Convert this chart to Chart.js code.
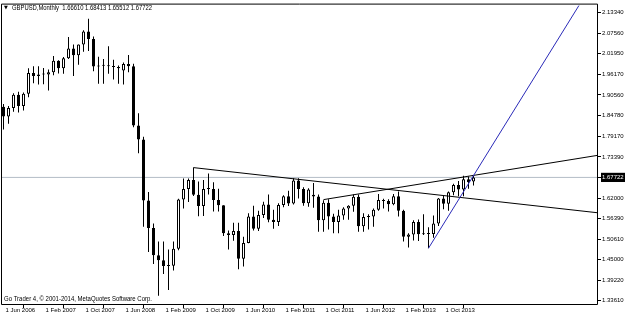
<!DOCTYPE html>
<html><head><meta charset="utf-8">
<script src="https://cdn.jsdelivr.net/npm/chart.js@4.4.0/dist/chart.umd.min.js"></script>
<style>html,body{margin:0;padding:0;background:#fff;overflow:hidden}#wrap{width:625px;height:315px;position:relative}</style>
</head><body><div id="wrap"><canvas id="c" width="625" height="315"></canvas></div>
<script>
// Monthly GBPUSD candles, Jun 2006 .. Apr 2014
const months = ['Jun 2006','Jul 2006','Aug 2006','Sep 2006','Oct 2006','Nov 2006','Dec 2006',
'Jan 2007','Feb 2007','Mar 2007','Apr 2007','May 2007','Jun 2007','Jul 2007','Aug 2007','Sep 2007','Oct 2007','Nov 2007','Dec 2007',
'Jan 2008','Feb 2008','Mar 2008','Apr 2008','May 2008','Jun 2008','Jul 2008','Aug 2008','Sep 2008','Oct 2008','Nov 2008','Dec 2008',
'Jan 2009','Feb 2009','Mar 2009','Apr 2009','May 2009','Jun 2009','Jul 2009','Aug 2009','Sep 2009','Oct 2009','Nov 2009','Dec 2009',
'Jan 2010','Feb 2010','Mar 2010','Apr 2010','May 2010','Jun 2010','Jul 2010','Aug 2010','Sep 2010','Oct 2010','Nov 2010','Dec 2010',
'Jan 2011','Feb 2011','Mar 2011','Apr 2011','May 2011','Jun 2011','Jul 2011','Aug 2011','Sep 2011','Oct 2011','Nov 2011','Dec 2011',
'Jan 2012','Feb 2012','Mar 2012','Apr 2012','May 2012','Jun 2012','Jul 2012','Aug 2012','Sep 2012','Oct 2012','Nov 2012','Dec 2012',
'Jan 2013','Feb 2013','Mar 2013','Apr 2013','May 2013','Jun 2013','Jul 2013','Aug 2013','Sep 2013','Oct 2013','Nov 2013','Dec 2013',
'Jan 2014','Feb 2014','Mar 2014','Apr 2014'];
const opens = [1.873,1.846,1.869,1.906,1.875,1.909,1.966,
1.958,1.962,1.962,1.968,2.000,1.979,2.007,2.034,2.015,2.045,2.081,2.060,
1.984,1.987,1.986,1.985,1.983,1.973,1.991,1.985,1.821,1.782,1.613,1.537,
1.462,1.448,1.432,1.433,1.480,1.616,1.645,1.670,1.629,1.598,1.645,1.645,
1.615,1.600,1.523,1.518,1.529,1.452,1.496,1.569,1.535,1.573,1.602,1.560,
1.554,1.601,1.625,1.605,1.669,1.645,1.606,1.629,1.6245,1.559,1.607,1.569,
1.554,1.572,1.591,1.599,1.624,1.542,1.568,1.569,1.588,1.615,1.612,1.603,
1.625,1.585,1.513,1.519,1.554,1.520,1.521,1.521,1.550,1.619,1.604,1.636,
1.656,1.644,1.672,1.66610];
const highs = [1.880,1.875,1.910,1.914,1.912,1.979,1.985,
1.985,1.980,1.976,2.013,2.001,2.010,2.066,2.045,2.045,2.084,2.116,2.067,
2.011,2.005,2.040,2.003,1.987,1.995,2.016,1.992,1.855,1.790,1.637,1.550,
1.500,1.500,1.478,1.500,1.618,1.674,1.674,1.7043,1.666,1.670,1.688,1.664,
1.646,1.600,1.530,1.552,1.552,1.513,1.578,1.599,1.585,1.610,1.630,1.588,
1.606,1.628,1.640,1.675,1.675,1.650,1.647,1.662,1.630,1.614,1.617,1.577,
1.588,1.595,1.600,1.630,1.630,1.578,1.575,1.591,1.631,1.618,1.617,1.631,
1.638,1.588,1.523,1.559,1.561,1.575,1.539,1.572,1.620,1.626,1.638,1.660,
1.667,1.682,1.680,1.68413];
const lows = [1.810,1.826,1.859,1.857,1.862,1.899,1.938,
1.934,1.935,1.918,1.960,1.965,1.964,2.005,1.958,1.989,2.025,2.027,1.971,
1.936,1.936,1.964,1.948,1.936,1.934,1.968,1.816,1.744,1.541,1.471,1.438,
1.350,1.410,1.366,1.420,1.476,1.591,1.609,1.626,1.570,1.5705,1.630,1.583,
1.583,1.515,1.478,1.502,1.423,1.431,1.495,1.530,1.529,1.565,1.553,1.535,
1.543,1.595,1.598,1.602,1.619,1.599,1.596,1.593,1.527,1.527,1.533,1.523,
1.523,1.560,1.560,1.582,1.527,1.527,1.533,1.541,1.585,1.591,1.583,1.600,
1.569,1.500,1.483,1.503,1.501,1.518,1.4814,1.510,1.543,1.589,1.585,1.628,
1.625,1.625,1.646,1.65512];
const closes = [1.846,1.869,1.906,1.875,1.909,1.966,1.958,
1.962,1.962,1.968,2.000,1.979,2.007,2.034,2.015,2.045,2.081,2.060,1.984,
1.987,1.986,1.985,1.983,1.979,1.991,1.985,1.821,1.782,1.613,1.537,1.462,
1.448,1.432,1.433,1.480,1.616,1.645,1.670,1.629,1.598,1.645,1.645,1.615,
1.600,1.523,1.518,1.529,1.452,1.496,1.569,1.535,1.573,1.602,1.560,1.554,
1.601,1.625,1.605,1.669,1.645,1.606,1.644,1.6245,1.559,1.607,1.569,1.554,
1.572,1.591,1.599,1.624,1.542,1.568,1.569,1.588,1.615,1.612,1.603,1.625,
1.585,1.513,1.519,1.554,1.520,1.521,1.521,1.550,1.619,1.604,1.636,1.656,
1.644,1.672,1.664,1.67722];

const xTickIndex = [0,8,16,24,32,40,48,56,64,72,80,88];
const xTickLabels = ['1 Jun 2006','1 Feb 2007','1 Oct 2007','1 Jun 2008','1 Feb 2009','1 Oct 2009',
  '1 Jun 2010','1 Feb 2011','1 Oct 2011','1 Jun 2012','1 Feb 2013','1 Oct 2013'];
const yTickValues = [2.13340,2.07560,2.01950,1.96170,1.90560,1.84780,1.79170,1.73390,1.67722,1.62000,1.56390,1.50610,1.45000,1.39220,1.33610];
const yTickLabels = ['2.13340','2.07560','2.01950','1.96170','1.90560','1.84780','1.79170','1.73390','1.67722','1.62000','1.56390','1.50610','1.45000','1.39220','1.33610'];
const currentPrice = 1.67722;

// trend lines (month index, price)
const trendDown = [[38,1.7043],[118.9,1.5793]];
const trendUp = [[64,1.6158],[118.9,1.7384]];
const trendBlue = [[85,1.4814],[115.08,2.1526]];

const titleText = 'GBPUSD,Monthly  1.66610 1.68413 1.65512 1.67722';
const footerText = 'Go Trader 4, \u00A9 2001-2014, MetaQuotes Software Corp.';

const X_MIN = -0.3, X_MAX = 118.9;
const Y_MIN = 1.3270, Y_MAX = 2.1553;
const FONT = 'Liberation Sans, Arial, sans-serif';

const toPts = arr => arr.map(p => ({x: p[0], y: p[1]}));

const textPlugin = {
  id: 'mtText',
  afterDraw(chart) {
    const ctx = chart.ctx, a = chart.chartArea;
    ctx.save();
    // frame
    ctx.strokeStyle = '#000';
    ctx.lineWidth = 1;
    ctx.beginPath();
    ctx.moveTo(a.left - 0.5, a.top - 0.5);
    ctx.lineTo(a.right - 0.5, a.top - 0.5);
    ctx.lineTo(a.right - 0.5, a.bottom + 0.5);
    ctx.lineTo(a.left - 0.5, a.bottom + 0.5);
    ctx.closePath();
    ctx.stroke();
    ctx.fillStyle = '#000';
    ctx.textBaseline = 'alphabetic';
    ctx.textAlign = 'left';
    ctx.font = '5px DejaVu Sans';
    ctx.fillText('\u25BC', 4, 9);
    ctx.font = '7px ' + FONT;
    ctx.fillText(titleText, 12, 9.5, 140);
    ctx.fillText(footerText, 4, 300.5, 148);
    ctx.restore();
  }
};

new Chart(document.getElementById('c'), {
  type: 'bar',
  data: {
    datasets: [
      {
        type: 'line', label: 'price', order: 5,
        data: [{x: X_MIN, y: currentPrice}, {x: X_MAX, y: currentPrice}],
        borderColor: '#b4bcc6', borderWidth: 1, pointRadius: 0, clip: 0
      },
      {
        label: 'wicks', order: 4, grouped: false,
        data: months.map((m, i) => ({x: i, y: [lows[i], highs[i]]})),
        backgroundColor: '#000', borderWidth: 0, barThickness: 1, inflateAmount: 0
      },
      {
        label: 'bodies', order: 3, grouped: false,
        data: months.map((m, i) => ({x: i, y: [opens[i], closes[i]]})),
        backgroundColor: months.map((m, i) => closes[i] >= opens[i] ? '#fff' : '#000'),
        borderColor: '#000', borderWidth: 1, borderSkipped: false,
        barThickness: 3, minBarLength: 1, inflateAmount: 0
      },
      {
        type: 'line', label: 'down', order: 1, data: toPts(trendDown),
        borderColor: '#000', borderWidth: 1, pointRadius: 0, clip: 0
      },
      {
        type: 'line', label: 'up', order: 1, data: toPts(trendUp),
        borderColor: '#000', borderWidth: 1, pointRadius: 0, clip: 0
      },
      {
        type: 'line', label: 'blue', order: 0, data: toPts(trendBlue),
        borderColor: '#2a2ab8', borderWidth: 1, pointRadius: 0, clip: 0
      }
    ]
  },
  options: {
    responsive: false,
    animation: false,
    devicePixelRatio: 1,
    layout: {padding: {left: 2, top: 2, right: 0, bottom: 0}},
    plugins: {legend: {display: false}, tooltip: {enabled: false}, title: {display: false}},
    scales: {
      x: {
        type: 'linear', min: X_MIN, max: X_MAX, offset: false,
        position: 'bottom',
        afterFit: s => { s.height = 11; },
        afterBuildTicks: s => { s.ticks = xTickIndex.map(v => ({value: v})); },
        ticks: {
          autoSkip: false, maxRotation: 0, minRotation: 0, align: 'start', labelOffset: 2,
          padding: -1, color: '#000', font: {family: FONT, size: 6},
          callback: (v, i) => xTickLabels[i]
        },
        grid: {drawOnChartArea: false, drawTicks: true, tickLength: 4, color: '#000'},
        border: {display: false}
      },
      y: {
        type: 'linear', min: Y_MIN, max: Y_MAX, position: 'right',
        afterFit: s => { s.width = 27; },
        afterBuildTicks: s => { s.ticks = yTickValues.map(v => ({value: v})); },
        ticks: {
          autoSkip: false, padding: 1, font: {family: FONT, size: 6},
          color: c => (c.tick && c.tick.value === currentPrice) ? '#fff' : '#000',
          showLabelBackdrop: c => !!(c.tick && c.tick.value === currentPrice),
          backdropColor: '#000',
          backdropPadding: {left: 1, right: 4, top: 1, bottom: 1},
          callback: (v, i) => yTickLabels[i]
        },
        grid: {drawOnChartArea: false, drawTicks: true, tickLength: 3, color: '#000'},
        border: {display: false}
      }
    }
  },
  plugins: [textPlugin]
});
</script>
</body></html>
